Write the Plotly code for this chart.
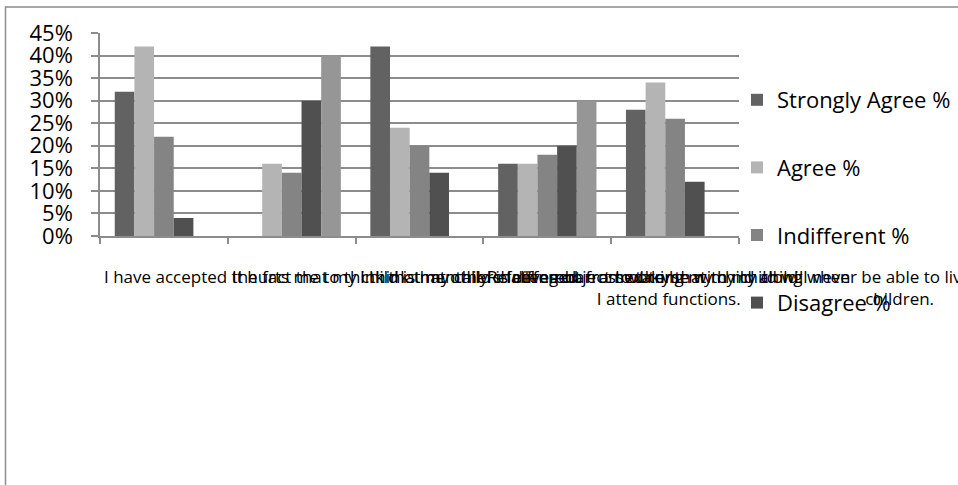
import plotly.graph_objects as go

# Survey statements (long labels, drawn under each category)
statements = [
    "I have accepted the fact that my child is mentally challenged.",
    "It hurts me to think that my child is different from others.",
    "I think that others feel embarrassed to be with my child.",
    "Relatives object to taking my child along when<br>I attend functions.",
    "I worry that my child will never be able to live a life like the other normal<br>children.",
]
categories = ["S1", "S2", "S3", "S4", "S5"]

series_names = ["Strongly Agree %", "Agree %", "Indifferent %", "Disagree %", "Strongly Disagree %"]
strongly_agree = [32, 0, 42, 16, 28]
agree = [42, 16, 24, 16, 34]
indifferent = [22, 14, 20, 18, 26]
disagree = [4, 30, 14, 20, 12]
strongly_disagree = [0, 40, 0, 30, 0]
series_values = [strongly_agree, agree, indifferent, disagree, strongly_disagree]
series_colors = ["#626262", "#b4b4b4", "#848484", "#505050", "#969696"]
series_in_legend = [True, True, True, True, False]

y_ticks = [0, 5, 10, 15, 20, 25, 30, 35, 40, 45]

W, H = 958, 485
L, R, T, B = 100, 739, 33, 236  # plot area in pixels
FONT = "Open Sans"

fig = go.Figure()
for name, vals, col, show in zip(series_names, series_values, series_colors, series_in_legend):
    fig.add_trace(go.Bar(
        x=categories, y=vals, name=name, marker_color=col,
        marker_line_width=0, showlegend=show, legendgroup=name,
    ))

# category labels start at the left boundary of each category slot
for i, txt in enumerate(statements):
    fig.add_annotation(
        x=i - 0.5, xref="x", xanchor="left", xshift=2,
        y=(B - 263) / (B - T), yref="paper", yanchor="top",
        text=txt, align="center", showarrow=False,
        font=dict(family=FONT, size=17, color="#000000"),
    )

# outer chart border
fig.add_shape(
    type="rect", xref="paper", yref="paper",
    x0=(5.5 - L) / (R - L), x1=(975 - L) / (R - L),
    y0=(B - 500) / (B - T), y1=(B - 7) / (B - T),
    line=dict(color="#8c8c8c", width=1.5), fillcolor="rgba(0,0,0,0)",
    layer="below",
)

fig.update_layout(
    width=W, height=H,
    margin=dict(l=L, r=W - R, t=T, b=H - B, autoexpand=False),
    paper_bgcolor="white", plot_bgcolor="white",
    barmode="group", bargap=1.5 / 6.5, bargroupgap=0,
    font=dict(family=FONT, color="#000000"),
    legend=dict(
        x=(737 - L) / (R - L), xanchor="left", y=(B - 79) / (B - T), yanchor="top",
        font=dict(family=FONT, size=22, color="#000000"),
        tracegroupgap=36, bgcolor="rgba(0,0,0,0)", maxheight=450,
    ),
    xaxis=dict(
        showticklabels=False, showgrid=False, showline=True,
        linecolor="#8c8c8c", linewidth=1.5,
        ticks="outside", tickson="boundaries", ticklen=6,
        tickcolor="#8c8c8c", tickwidth=1.5,
        range=[-0.5, 4.5],
    ),
    yaxis=dict(
        range=[0, 45], tickvals=y_ticks, ticktext=[f"{v}%" for v in y_ticks],
        showgrid=True, gridcolor="#8c8c8c", gridwidth=1.5,
        showline=True, linecolor="#8c8c8c", linewidth=1.5,
        ticks="outside", ticklen=7, tickcolor="#8c8c8c", tickwidth=1.5,
        ticklabelstandoff=14, zeroline=False,
        tickfont=dict(family=FONT, size=22, color="#000000"),
    ),
)

fig.write_html("out.html")
